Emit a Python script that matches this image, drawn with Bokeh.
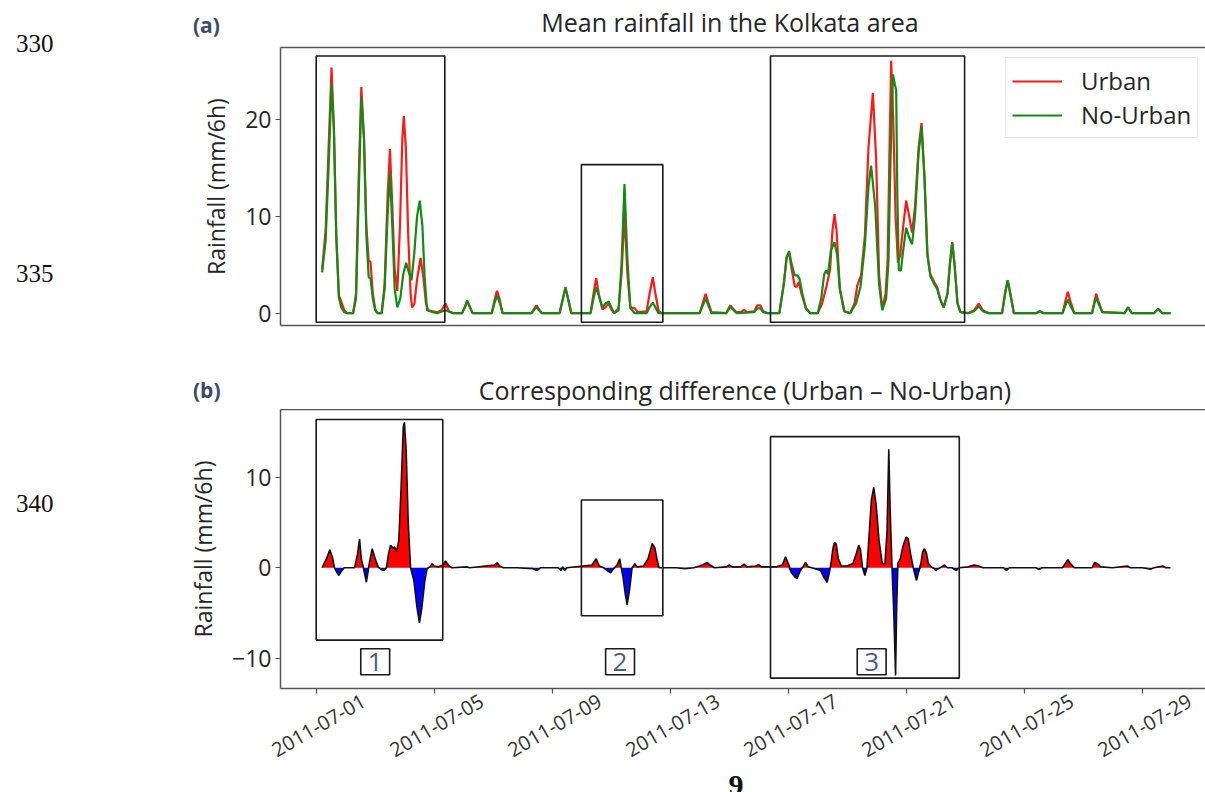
import numpy as np
from datetime import datetime
from bokeh.plotting import figure
from bokeh.models import (Range1d, FixedTicker, LinearAxis, Label, Legend,
                          LegendItem, ColumnDataSource, Div)
from bokeh.layouts import column, row
from bokeh.embed import file_html
from bokeh.resources import INLINE

# ---------------- data (days since 2011-07-01 00:00, mm/6h) ----------------
urban_day = [0.20, 0.32, 0.42, 0.52, 0.60, 0.68, 0.77, 0.85, 0.95, 1.05, 1.25, 1.35, 1.44, 1.53, 1.62,
             1.70, 1.78, 1.84, 1.92, 2.00, 2.08, 2.22, 2.32, 2.42, 2.50, 2.58, 2.66, 2.75, 2.84, 2.92,
             2.97, 3.04, 3.12, 3.20, 3.25, 3.33, 3.42, 3.54, 3.64, 3.72, 3.80, 3.95, 4.10, 4.25, 4.38,
             4.50, 4.65, 4.95, 5.05, 5.12, 5.20, 5.30, 5.95, 6.05, 6.13, 6.22, 6.32, 7.30, 7.40, 7.47,
             7.55, 7.65, 8.25, 8.37, 8.45, 8.53, 8.65, 9.30, 9.40, 9.49, 9.58, 9.70, 9.80, 9.92, 10.00,
             10.10, 10.25, 10.35, 10.45, 10.55, 10.65, 10.80, 10.90, 11.20, 11.30, 11.41, 11.50, 11.60,
             11.70, 13.00, 13.12, 13.20, 13.28, 13.40, 13.90, 14.00, 14.04, 14.12, 14.25, 14.40, 14.50,
             14.60, 14.85, 14.95, 15.06, 15.15, 15.30, 15.70, 15.85, 15.95, 16.03, 16.12, 16.22, 16.28,
             16.36, 16.45, 16.60, 16.75, 17.00, 17.15, 17.30, 17.42, 17.50, 17.57, 17.64, 17.75, 17.90,
             18.10, 18.25, 18.34, 18.47, 18.60, 18.72, 18.87, 18.98, 19.08, 19.19, 19.30, 19.37, 19.43,
             19.49, 19.56, 19.64, 19.72, 19.80, 19.90, 20.00, 20.10, 20.20, 20.30, 20.42, 20.52, 20.62,
             20.72, 20.82, 20.95, 21.05, 21.15, 21.27, 21.40, 21.48, 21.56, 21.64, 21.74, 21.84, 22.10,
             22.30, 22.46, 22.60, 22.80, 23.25, 23.35, 23.44, 23.53, 23.65, 24.40, 24.53, 24.65, 25.30,
             25.40, 25.48, 25.56, 25.70, 26.30, 26.38, 26.44, 26.52, 26.65, 27.40, 27.52, 27.65, 28.40,
             28.54, 28.68, 28.96]
urban_mm = [4.5, 8.5, 17.0, 25.3, 19.0, 8.0, 1.8, 1.2, 0.3, 0.0, 0.0, 2.0, 14.0, 23.3, 18.0,
            9.0, 5.4, 5.3, 2.0, 0.4, 0.0, 0.0, 3.0, 12.0, 16.9, 11.0, 4.5, 2.3, 9.0, 18.0,
            20.3, 17.0, 8.0, 2.0, 0.6, 1.0, 3.5, 5.7, 3.5, 1.0, 0.3, 0.2, 0.1, 0.3, 1.0,
            0.2, 0.0, 0.0, 0.7, 1.3, 0.7, 0.0, 0.0, 1.4, 2.3, 1.4, 0.0, 0.0, 0.5, 0.8,
            0.4, 0.0, 0.0, 1.6, 2.7, 1.6, 0.0, 0.0, 2.0, 3.6, 2.0, 0.4, 0.6, 1.0, 0.4,
            0.0, 0.5, 4.0, 10.2, 4.0, 0.6, 0.5, 0.1, 0.2, 2.0, 3.7, 2.0, 0.3,
            0.0, 0.0, 1.2, 2.0, 1.2, 0.1, 0.0, 0.6, 0.8, 0.5, 0.1, 0.1, 0.35,
            0.1, 0.2, 0.8, 0.8, 0.2, 0.0, 0.0, 3.0, 5.8, 6.2, 4.5, 2.8, 2.7,
            3.2, 2.0, 0.5, 0.0, 0.0, 1.0, 2.8, 4.5, 8.5, 10.2, 8.5, 2.5, 0.2,
            0.0, 1.0, 2.8, 3.9, 8.0, 17.0, 22.7, 16.0, 4.0, 0.4, 2.0, 5.4, 16.0,
            26.0, 20.0, 10.0, 5.2, 6.0, 9.0, 11.6, 10.0, 8.3, 11.0, 17.0, 19.6, 14.0,
            6.0, 4.0, 3.2, 2.7, 1.5, 0.6, 2.0, 5.0, 7.3, 5.0, 1.0, 0.1, 0.0,
            0.3, 1.0, 0.3, 0.0, 0.0, 2.0, 3.4, 2.0, 0.0, 0.0, 0.2, 0.0, 0.0,
            1.3, 2.2, 1.3, 0.0, 0.0, 1.2, 2.0, 1.2, 0.1, 0.0, 0.6, 0.0, 0.0,
            0.45, 0.0, 0.0]

nourban_day = [0.20, 0.32, 0.42, 0.52, 0.60, 0.68, 0.77, 0.85, 0.95, 1.05, 1.25, 1.35, 1.44, 1.53, 1.62,
               1.70, 1.78, 1.84, 1.92, 2.00, 2.08, 2.22, 2.32, 2.42, 2.50, 2.58, 2.66, 2.75, 2.85, 2.95,
               3.05, 3.14, 3.23, 3.32, 3.42, 3.51, 3.60, 3.68, 3.76, 3.95, 4.10, 4.38, 4.65, 4.95, 5.05,
               5.12, 5.20, 5.30, 5.95, 6.05, 6.13, 6.22, 6.32, 7.30, 7.40, 7.47, 7.55, 7.65, 8.25, 8.37,
               8.45, 8.53, 8.65, 9.30, 9.40, 9.49, 9.58, 9.70, 9.80, 9.92, 10.00, 10.10, 10.25, 10.35,
               10.45, 10.55, 10.65, 10.80, 11.20, 11.30, 11.41, 11.50, 11.60, 13.00, 13.12, 13.20, 13.28,
               13.40, 13.90, 14.00, 14.04, 14.12, 14.25, 14.85, 14.95, 15.06, 15.15, 15.30, 15.70, 15.85,
               15.95, 16.03, 16.12, 16.22, 16.30, 16.38, 16.48, 16.60, 16.75, 17.00, 17.12, 17.22, 17.28,
               17.35, 17.45, 17.57, 17.66, 17.75, 17.90, 18.10, 18.30, 18.45, 18.60, 18.72, 18.81, 18.95,
               19.08, 19.19, 19.32, 19.40, 19.47, 19.55, 19.62, 19.66, 19.70, 19.75, 19.82, 19.90, 20.00,
               20.10, 20.20, 20.30, 20.42, 20.52, 20.62, 20.72, 20.82, 20.95, 21.05, 21.15, 21.27, 21.40,
               21.48, 21.56, 21.64, 21.74, 21.84, 22.10, 22.30, 22.46, 22.60, 22.80, 23.25, 23.35, 23.44,
               23.53, 23.65, 24.40, 24.53, 24.65, 25.30, 25.40, 25.48, 25.56, 25.70, 26.30, 26.38, 26.44,
               26.52, 26.65, 27.40, 27.52, 27.65, 28.40, 28.54, 28.68, 28.96]
nourban_mm = [4.2, 7.5, 15.0, 23.6, 19.0, 8.0, 1.6, 0.6, 0.1, 0.0, 0.0, 1.5, 12.0, 22.2, 18.0,
              8.0, 3.7, 3.6, 1.5, 0.3, 0.0, 0.0, 2.5, 10.0, 14.5, 9.0, 2.5, 0.6, 1.5, 4.0,
              5.2, 4.2, 3.4, 6.0, 10.0, 11.6, 9.0, 3.5, 0.3, 0.1, 0.0, 0.3, 0.0, 0.0, 0.7,
              1.3, 0.7, 0.0, 0.0, 1.1, 1.8, 1.1, 0.0, 0.0, 0.4, 0.6, 0.3, 0.0, 0.0, 1.6,
              2.6, 1.6, 0.0, 0.0, 1.5, 2.7, 1.8, 0.6, 1.0, 1.2, 0.6, 0.0, 0.3, 5.0,
              13.3, 5.5, 0.5, 0.0, 0.0, 0.6, 1.1, 0.6, 0.0, 0.0, 0.9, 1.5, 0.9,
              0.0, 0.0, 0.5, 0.7, 0.4, 0.0, 0.1, 0.5, 0.5, 0.1, 0.0, 0.0, 3.0,
              5.8, 6.4, 5.0, 3.9, 3.9, 3.6, 2.0, 0.5, 0.0, 0.0, 1.5, 4.0, 4.4,
              4.0, 6.5, 7.3, 6.0, 2.5, 0.2, 0.0, 1.0, 2.7, 7.0, 13.0, 15.2, 11.0,
              3.0, 0.3, 1.5, 5.4, 16.0, 24.6, 23.5, 23.0, 12.0, 4.4, 4.4, 6.5, 8.8,
              7.8, 7.1, 10.0, 16.5, 19.2, 14.0, 6.0, 3.8, 3.0, 2.5, 1.4, 0.6, 2.0,
              5.0, 7.3, 5.0, 1.0, 0.1, 0.0, 0.2, 0.7, 0.2, 0.0, 0.0, 2.0, 3.4,
              2.0, 0.0, 0.0, 0.2, 0.0, 0.0, 0.8, 1.4, 0.8, 0.0, 0.0, 1.0, 1.6,
              1.0, 0.1, 0.0, 0.6, 0.0, 0.0, 0.45, 0.0, 0.0]

diff_day = [0.20, 0.35, 0.46, 0.55, 0.62, 0.70, 0.77, 0.85, 0.95, 1.30, 1.40, 1.47, 1.53, 1.60, 1.65,
            1.70, 1.75, 1.80, 1.90, 2.00, 2.10, 2.20, 2.30, 2.38, 2.45, 2.52, 2.60, 2.66, 2.72, 2.80,
            2.88, 2.95, 2.99, 3.05, 3.12, 3.20, 3.31, 3.42, 3.50, 3.58, 3.68, 3.76, 3.85, 3.93, 4.00,
            4.15, 4.30, 4.38, 4.48, 4.60, 5.10, 5.20, 6.05, 6.13, 6.22, 6.35, 6.80, 7.35, 7.49, 7.60,
            8.20, 8.30, 8.36, 8.42, 8.50, 9.35, 9.49, 9.60, 9.75, 9.90, 9.98, 10.08, 10.20, 10.29,
            10.34, 10.40, 10.48, 10.54, 10.62, 10.71, 10.80, 10.88, 11.10, 11.25, 11.39, 11.48, 11.55,
            11.62, 12.20, 12.50, 12.80, 13.10, 13.25, 13.35, 13.50, 13.90, 14.00, 14.10, 14.40, 14.50,
            14.60, 14.90, 15.00, 15.10, 15.60, 15.80, 15.91, 16.00, 16.10, 16.22, 16.30, 16.40, 16.50,
            16.59, 16.68, 16.80, 17.10, 17.20, 17.32, 17.40, 17.45, 17.52, 17.57, 17.63, 17.70, 17.80,
            18.00, 18.20, 18.30, 18.39, 18.45, 18.52, 18.60, 18.67, 18.73, 18.82, 18.90, 18.98, 19.08,
            19.19, 19.28, 19.35, 19.41, 19.46, 19.52, 19.58, 19.64, 19.68, 19.72, 19.80, 19.90, 20.00,
            20.07, 20.15, 20.24, 20.30, 20.35, 20.42, 20.50, 20.56, 20.62, 20.68, 20.75, 20.85, 20.95,
            21.00, 21.10, 21.20, 21.30, 21.40, 21.55, 21.70, 21.80, 22.10, 22.30, 22.45, 22.60, 23.30,
            23.40, 23.50, 24.40, 24.50, 24.60, 25.30, 25.40, 25.48, 25.56, 25.70, 26.30, 26.39, 26.50,
            26.60, 27.00, 27.50, 27.60, 28.00, 28.30, 28.40, 28.70, 28.80, 28.96]
diff_mm = [0.0, 1.0, 2.0, 1.2, 0.0, -0.5, -0.85, -0.4, 0.0, 0.0, 1.5, 3.2, 1.0, 0.0, -0.8,
           -1.6, -0.6, 0.5, 2.1, 1.0, 0.1, -0.2, -0.3, 0.0, 1.5, 2.5, 2.2, 2.3, 1.8, 3.0,
           9.0, 15.5, 16.1, 13.0, 5.0, 0.0, -1.4, -4.5, -6.1, -4.5, -1.5, -0.1, 0.1, 0.45, 0.2,
           0.1, 0.3, 0.75, 0.3, 0.0, 0.1, 0.0, 0.3, 0.55, 0.2, 0.0, 0.0, -0.1, -0.3, 0.0,
           0.0, -0.3, 0.1, -0.3, 0.0, 0.3, 1.0, 0.2, 0.0, -0.4, -0.55, -0.1, 0.3, 1.0,
           0.0, -1.0, -3.0, -4.1, -2.5, 0.0, 0.45, 0.1, 0.2, 1.0, 2.7, 2.2, 1.0,
           0.0, 0.0, -0.1, 0.0, 0.3, 0.6, 0.3, 0.0, 0.1, 0.3, 0.1, 0.1, 0.4,
           0.1, 0.2, 0.35, 0.1, 0.1, 0.3, 1.2, 0.5, -0.5, -1.0, -1.2, -0.4, 0.1,
           0.6, 0.1, 0.0, -0.3, -1.0, -1.6, -0.5, 0.5, 2.2, 2.8, 2.6, 1.0, 0.2,
           0.2, 0.5, 1.5, 2.5, 2.0, 0.0, -0.85, 0.0, 3.0, 7.5, 8.9, 7.0, 3.0,
           0.45, 0.5, 4.0, 13.1, 6.0, 0.0, -5.0, -11.9, -4.0, 0.5, 1.0, 2.5, 3.4,
           3.2, 1.5, 0.0, -0.8, -1.4, -0.5, 0.5, 1.8, 2.1, 1.7, 0.5, 0.1, -0.1,
           -0.3, -0.1, 0.1, 0.3, 0.0, 0.0, -0.3, 0.0, 0.1, 0.3, 0.2, 0.0, 0.0,
           -0.3, 0.0, 0.0, -0.2, 0.0, 0.0, 0.5, 0.9, 0.5, 0.0, 0.0, 0.6, 0.4,
           0.1, 0.0, 0.2, 0.0, 0.0, -0.15, 0.0, 0.2, 0.0, 0.0]

# highlighted periods (days) and their vertical extents
top_box_left = [0.0, 8.99, 15.40]
top_box_right = [4.36, 11.75, 21.98]
top_box_bottom = [-0.93, -0.93, -0.93]
top_box_top = [26.5, 15.3, 26.5]
bot_box_left = [0.0, 8.99, 15.40]
bot_box_right = [4.29, 11.75, 21.80]
bot_box_bottom = [-8.0, -5.3, -12.2]
bot_box_top = [16.4, 7.5, 14.5]
box_names = ["1", "2", "3"]
box_name_day = [2.0, 10.3, 18.83]
box_name_y = -10.4

tick_days = [0, 4, 8, 12, 16, 20, 24, 28]
tick_labels = ["2011-07-01", "2011-07-05", "2011-07-09", "2011-07-13",
               "2011-07-17", "2011-07-21", "2011-07-25", "2011-07-29"]
line_numbers = ["330", "335", "340"]

# ---------------- helpers ----------------
T0_MS = (datetime(2011, 7, 1) - datetime(1970, 1, 1)).total_seconds() * 1000.0
DAY_MS = 86400000.0


def to_ms(days):
    return T0_MS + np.asarray(days, dtype=float) * DAY_MS


FONT = "Open Sans"
SPINE = "#555555"
TXT = "#262626"
LEFT_W = 120            # page column holding the line numbers
COL_W = 1085
FRAME_LEFT = 280        # page x of the plot frames
X_START, X_END = -1.21, 30.146
LABEL_SHIFT = 1.62      # rotated date labels are anchored by their right end


def base_fig(height, ylo, yhi, top, bottom):
    p = figure(width=COL_W, height=height,
               x_range=Range1d(float(to_ms(X_START)), float(to_ms(X_END))),
               y_range=Range1d(ylo, yhi), output_backend="svg", toolbar_location=None,
               min_border_left=FRAME_LEFT - LEFT_W, min_border_right=0, min_border_top=top,
               min_border_bottom=bottom)
    p.outline_line_color = None
    p.grid.visible = False
    ya = p.yaxis[0]
    ya.axis_line_color = SPINE
    ya.axis_line_width = 1.5
    ya.major_tick_in = 0
    ya.major_tick_out = 5
    ya.major_tick_line_color = SPINE
    ya.minor_tick_line_color = None
    ya.major_label_text_font = FONT
    ya.major_label_text_font_size = "23px"
    ya.major_label_text_color = TXT
    ya.major_label_standoff = 4
    ya.axis_label = "Rainfall (mm/6h)"
    ya.axis_label_text_font = FONT
    ya.axis_label_text_font_size = "23px"
    ya.axis_label_text_font_style = "normal"
    ya.axis_label_text_color = TXT
    ya.axis_label_standoff = 10
    xa = p.xaxis[0]
    xa.axis_line_color = SPINE
    xa.axis_line_width = 1.5
    xa.major_tick_out = 0
    xa.major_tick_in = 0
    xa.major_label_standoff = 0
    top_ax = LinearAxis(ticker=FixedTicker(ticks=[]), axis_line_color=SPINE, axis_line_width=1.5,
                        major_tick_line_color=None, minor_tick_line_color=None,
                        major_tick_out=0, minor_tick_out=0, major_label_standoff=0)
    p.add_layout(top_ax, "above")
    return p, xa, ya


# ---------------- panel (a) ----------------
p1, xa1, ya1 = base_fig(311, -1.27, 27.37, 8, 25)
ya1.ticker = FixedTicker(ticks=[0, 10, 20])
xa1.ticker = FixedTicker(ticks=[])
xa1.minor_tick_out = 0

src_u = ColumnDataSource(dict(x=to_ms(urban_day), y=urban_mm))
src_n = ColumnDataSource(dict(x=to_ms(nourban_day), y=nourban_mm))
r_u = p1.line("x", "y", source=src_u, line_color="#ff1a1a", line_width=2.2)
r_n = p1.line("x", "y", source=src_n, line_color="#138a13", line_width=2.2)

p1.quad(left=to_ms(top_box_left), right=to_ms(top_box_right), bottom=top_box_bottom,
        top=top_box_top, fill_color=None, line_color="#1a1a1a", line_width=1.6)

legend = Legend(items=[LegendItem(label="Urban", renderers=[r_u]),
                       LegendItem(label="No-Urban", renderers=[r_n])],
                location=(725, 187), label_text_font=FONT, label_text_font_size="24px",
                label_text_color=TXT, glyph_width=50, glyph_height=30, label_height=30,
                label_standoff=19, padding=6, spacing=1, margin=0,
                border_line_color="#d0d0d0", border_line_width=1.2,
                background_fill_color="white", background_fill_alpha=0.9)
p1.add_layout(legend)

# ---------------- panel (b) ----------------
p2, xa2, ya2 = base_fig(375, -13.35, 17.5, 0, 96)
ya2.ticker = FixedTicker(ticks=[-10, 0, 10])
ya2.major_label_overrides = {-10: "\u221210"}
anchor = [float(v) for v in to_ms(np.asarray(tick_days) + LABEL_SHIFT)]
xa2.ticker = FixedTicker(ticks=anchor, minor_ticks=[float(v) for v in to_ms(tick_days)])
xa2.major_label_overrides = dict(zip(anchor, tick_labels))
xa2.major_tick_line_color = None
xa2.minor_tick_out = 5
xa2.minor_tick_in = 0
xa2.minor_tick_line_color = SPINE
xa2.minor_tick_line_width = 1.3
xa2.major_label_orientation = np.pi / 6
xa2.major_label_standoff = 6
xa2.major_label_text_font = FONT
xa2.major_label_text_font_size = "20px"
xa2.major_label_text_color = "#333333"

d = np.asarray(diff_mm, dtype=float)
src_d = ColumnDataSource(dict(x=to_ms(diff_day), y=d, zero=np.zeros_like(d),
                              pos=np.clip(d, 0, None), neg=np.clip(d, None, 0)))
p2.varea(x="x", y1="zero", y2="pos", source=src_d, fill_color="#ff0000")
p2.varea(x="x", y1="zero", y2="neg", source=src_d, fill_color="#0000ff")
p2.line("x", "y", source=src_d, line_color="#111111", line_width=1.6)

p2.quad(left=to_ms(bot_box_left), right=to_ms(bot_box_right), bottom=bot_box_bottom,
        top=bot_box_top, fill_color=None, line_color="#1a1a1a", line_width=1.6)

for name, day in zip(box_names, box_name_day):
    p2.add_layout(Label(x=float(to_ms(day)), y=box_name_y, text=name, text_align="center",
                        text_baseline="middle", text_font=FONT, text_font_size="26px",
                        text_color="#4a5f80", border_line_color="#1a1a1a",
                        border_line_width=1.6, background_fill_color="white",
                        padding=(7, 7, 4, 4)))

# ---------------- surrounding page texts ----------------
SPAN = "position:absolute;white-space:nowrap;line-height:1;"


def header(height, tag, title, tag_y, title_x, title_y):
    html = (f'<div style="position:relative;width:{COL_W}px;height:{height}px;">'
            f'<span style="{SPAN}left:73px;top:{tag_y}px;transform:translateY(-50%);'
            f'font-family:\'{FONT}\';font-weight:bold;font-size:21px;color:#3b4b68;">{tag}</span>'
            f'<span style="{SPAN}left:{title_x}px;top:{title_y}px;transform:translate(-50%,-50%);'
            f'font-family:\'{FONT}\';font-size:25px;color:{TXT};">{title}</span></div>')
    return Div(text=html, width=COL_W, height=height, margin=(0, 0, 0, 0))


head_a = header(39, "(a)", "Mean rainfall in the Kolkata area", 25, 610, 22)
head_b = header(59, "(b)", "Corresponding difference (Urban \u2013 No-Urban)", 40, 625, 40)

ln_html = '<div style="position:relative;width:120px;height:792px;">'
for txt, yc in zip(line_numbers, [42.5, 272.5, 502.5]):
    ln_html += (f'<span style="{SPAN}left:16px;top:{yc}px;transform:translateY(-50%);'
                f'font-family:\'Liberation Serif\';font-size:25px;color:#111111;">{txt}</span>')
ln_html += '</div>'
left_div = Div(text=ln_html, width=LEFT_W, height=792, margin=(0, 0, 0, 0))

foot = Div(text=(f'<div style="position:relative;width:{COL_W}px;height:8px;overflow:visible;">'
                 f'<span style="{SPAN}left:616px;top:-18px;transform:translateX(-50%);'
                 f'font-family:\'Liberation Serif\';font-weight:bold;font-size:30px;'
                 f'color:#111111;">9</span></div>'),
           width=COL_W, height=8, margin=(0, 0, 0, 0))

layout = row(left_div, column(head_a, p1, head_b, p2, foot, spacing=0), spacing=0)
open("out.html", "w").write(file_html(layout, INLINE))
